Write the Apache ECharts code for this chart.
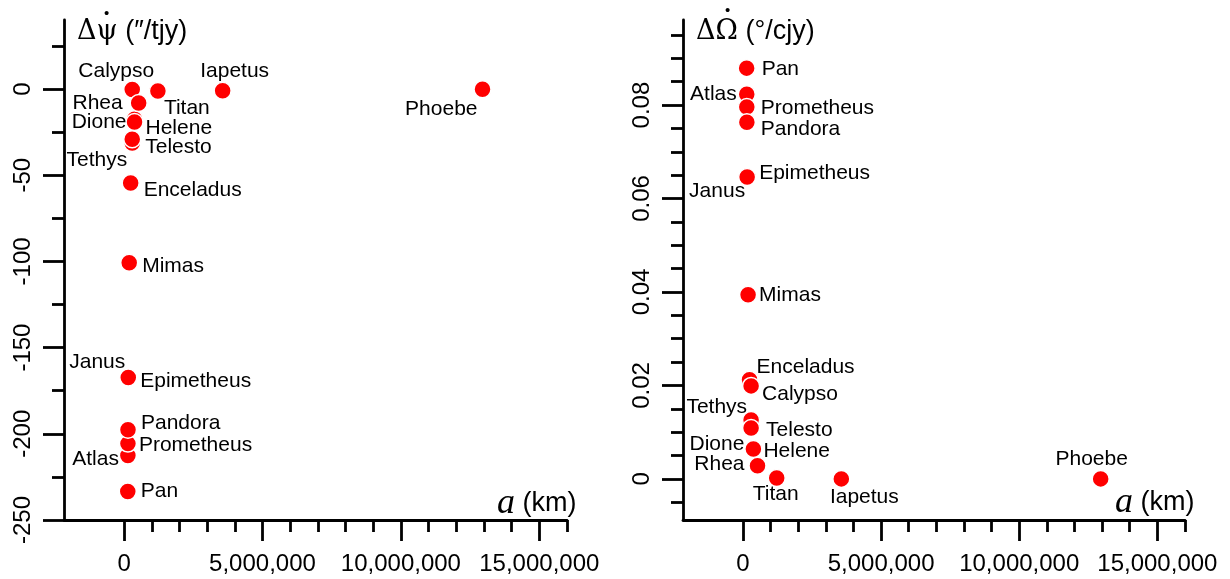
<!DOCTYPE html>
<html>
<head>
<meta charset="utf-8">
<script src="https://cdn.jsdelivr.net/npm/echarts@6/dist/echarts.min.js"></script>
<style>
  html, body { margin: 0; padding: 0; background: #fff; }
  #main { width: 1230px; height: 579px; }
</style>
</head>
<body>
<div id="main"></div>
<script>
// Saturn moons, drawing order (later ones sit on top)
var moons = ['Pan', 'Atlas', 'Prometheus', 'Pandora', 'Janus', 'Epimetheus', 'Mimas', 'Enceladus',
  'Tethys', 'Telesto', 'Calypso', 'Dione', 'Helene', 'Rhea', 'Titan', 'Iapetus', 'Phoebe'];
// semi-major axis (km)
var semiMajor = [133584, 137670, 139380, 141720, 151472, 151422, 185539, 237948,
  294619, 294619, 294619, 377396, 377396, 527108, 1221870, 3560820, 12947780];
// delta psi-dot ("/tjy)
var dPsi = [-233.5, -212.6, -205.7, -197.6, -167.5, -167.4, -100.8, -54.5,
  -31.4, -29.2, -0.3, -17.5, -19.2, -8.1, -1.2, -1.0, -0.2];
// delta Omega-dot (deg/cjy)
var dOmega = [0.0879, 0.0823, 0.0796, 0.0763, 0.0646, 0.0646, 0.0394, 0.0212,
  0.0126, 0.0109, 0.0199, 0.0064, 0.0064, 0.0028, 0.0002, 0.0000, 0.0000];

// tick values
var xMajor = [0, 5000000, 10000000, 15000000];
var xMinor = [1e6, 2e6, 3e6, 4e6, 6e6, 7e6, 8e6, 9e6, 11e6, 12e6, 13e6, 14e6, 16e6];
var psiMajor = [0, -50, -100, -150, -200, -250];
var psiMinor = [25, -25, -75, -125, -175, -225];
var omegaMajor = [0, 0.02, 0.04, 0.06, 0.08];
var omegaMinor = [-0.005, 0.005, 0.01, 0.015, 0.025, 0.03, 0.035, 0.045, 0.05, 0.055, 0.065, 0.07, 0.075, 0.085, 0.09, 0.095];

// label placement per moon: [dx, dy, align]
var psiPlace = [[13, 0, 'left'], [-9, 4, 'right'], [11, 2, 'left'], [13, -6, 'left'], [-3, -16, 'right'],
  [12, 4, 'left'], [13, 3, 'left'], [13, 7, 'left'], [-5, 17, 'right'], [13, 8, 'left'],
  [-16, -18, 'center'], [-8, 3, 'right'], [11, 6, 'left'], [-16, 0, 'right'], [6, 17, 'left'],
  [12, -19, 'center'], [-5, 20, 'right']];
var omegaPlace = [[15, 1, 'left'], [-10, 0, 'right'], [14, 1, 'left'], [14, 7, 'left'], [-2, 14, 'right'],
  [12, -4, 'left'], [11, 0, 'left'], [7, -13, 'left'], [-4, -13, 'right'], [15, 2, 'left'],
  [11, 8, 'left'], [-9, -5, 'right'], [10, 2, 'left'], [-13, -2, 'right'], [-1, 16, 'center'],
  [23, 18, 'center'], [-9, -20, 'center']];

var sans = 'Liberation Sans, Arial, sans-serif';
var serif = 'DejaVu Serif, Liberation Serif, serif';

function points(yVals, place) {
  return moons.map(function (name, i) {
    return {
      name: name,
      value: [semiMajor[i], yVals[i]],
      label: { align: place[i][2], offset: [place[i][0], place[i][1]] }
    };
  });
}

function commas(v) {
  return String(Math.round(v)).replace(/\B(?=(\d{3})+(?!\d))/g, ',');
}

function xAxes(grid) {
  return [{
    gridIndex: grid, type: 'value', position: 'bottom', min: -2170000, max: 16000000,
    axisLine: { onZero: false, lineStyle: { color: '#000', width: 2.8 } },
    axisTick: { length: 21, customValues: xMajor, lineStyle: { color: '#000', width: 2.8 } },
    axisLabel: { customValues: xMajor, formatter: commas, margin: 32, color: '#000', fontSize: 24, fontFamily: sans },
    splitLine: { show: false }
  }, {
    gridIndex: grid, type: 'value', position: 'bottom', min: -2170000, max: 16000000,
    axisLine: { show: false, onZero: false },
    axisTick: { length: 12, customValues: xMinor, lineStyle: { color: '#000', width: 2.8 } },
    axisLabel: { show: false },
    splitLine: { show: false }
  }];
}

function yAxes(grid, min, max, major, minor) {
  return [{
    gridIndex: grid, type: 'value', position: 'left', min: min, max: max,
    axisLine: { show: true, onZero: false, lineStyle: { color: '#000', width: 2.8 } },
    axisTick: { show: true, length: 21, customValues: major, lineStyle: { color: '#000', width: 2.8 } },
    axisLabel: { customValues: major, rotate: 90, margin: 29, color: '#000', fontSize: 24, fontFamily: sans,
      formatter: function (v) { return String(v); } },
    splitLine: { show: false }
  }, {
    gridIndex: grid, type: 'value', position: 'left', min: min, max: max,
    axisLine: { show: false, onZero: false },
    axisTick: { show: true, length: 12, customValues: minor, lineStyle: { color: '#000', width: 2.8 } },
    axisLabel: { show: false },
    splitLine: { show: false }
  }];
}

function series(xIdx, yIdx, data) {
  return {
    type: 'scatter', xAxisIndex: xIdx, yAxisIndex: yIdx, data: data,
    symbolSize: 17,
    itemStyle: { color: '#f00', borderColor: '#fff', borderWidth: 1.5, opacity: 1 },
    label: {
      show: true, position: 'inside', verticalAlign: 'middle',
      formatter: '{b}', color: '#000', fontSize: 21, fontFamily: sans
    },
    emphasis: { disabled: true },
    animation: false
  };
}

var titleStyle = {
  fontSize: 27, fontWeight: 'normal', color: '#000', fontFamily: sans,
  rich: {
    g: { fontSize: 27, fontFamily: serif, color: '#000' },
    i: { fontSize: 36, fontFamily: 'Liberation Serif, serif', fontStyle: 'italic', color: '#000' },
    s: { fontSize: 27, fontFamily: sans, color: '#000' }
  }
};
// time-derivative dot drawn over psi / Omega
var dotStyle = { fontSize: 15, fontWeight: 'normal', color: '#000', fontFamily: sans };

var chart = echarts.init(document.getElementById('main'));
chart.setOption({
  backgroundColor: '#fff',
  animation: false,
  title: [
    { text: '{g|\u0394\u03C8}{s| (\u2033/tjy)}', left: 77, top: 18, padding: 0, textStyle: titleStyle },
    { text: '\u2022', left: 104, top: 6, padding: 0, textStyle: dotStyle },
    { text: '{g|\u0394\u03A9}{s| (\u00B0/cjy)}', left: 696, top: 18, padding: 0, textStyle: titleStyle },
    { text: '\u2022', left: 725, top: 3, padding: 0, textStyle: dotStyle },
    { text: '{i|a}{s| (km)}', left: 497, top: 486, padding: 0, textStyle: titleStyle },
    { text: '{i|a}{s| (km)}', left: 1115, top: 485, padding: 0, textStyle: titleStyle }
  ],
  grid: [
    { left: 64, top: 20, width: 503, height: 500, outerBoundsMode: 'none' },
    { left: 683, top: 20, width: 502, height: 500, outerBoundsMode: 'none' }
  ],
  xAxis: xAxes(0).concat(xAxes(1)),
  yAxis: yAxes(0, -250, 40, psiMajor, psiMinor).concat(yAxes(1, -0.0088, 0.0982, omegaMajor, omegaMinor)),
  series: [
    series(0, 0, points(dPsi, psiPlace)),
    series(2, 2, points(dOmega, omegaPlace))
  ]
});
</script>
</body>
</html>
